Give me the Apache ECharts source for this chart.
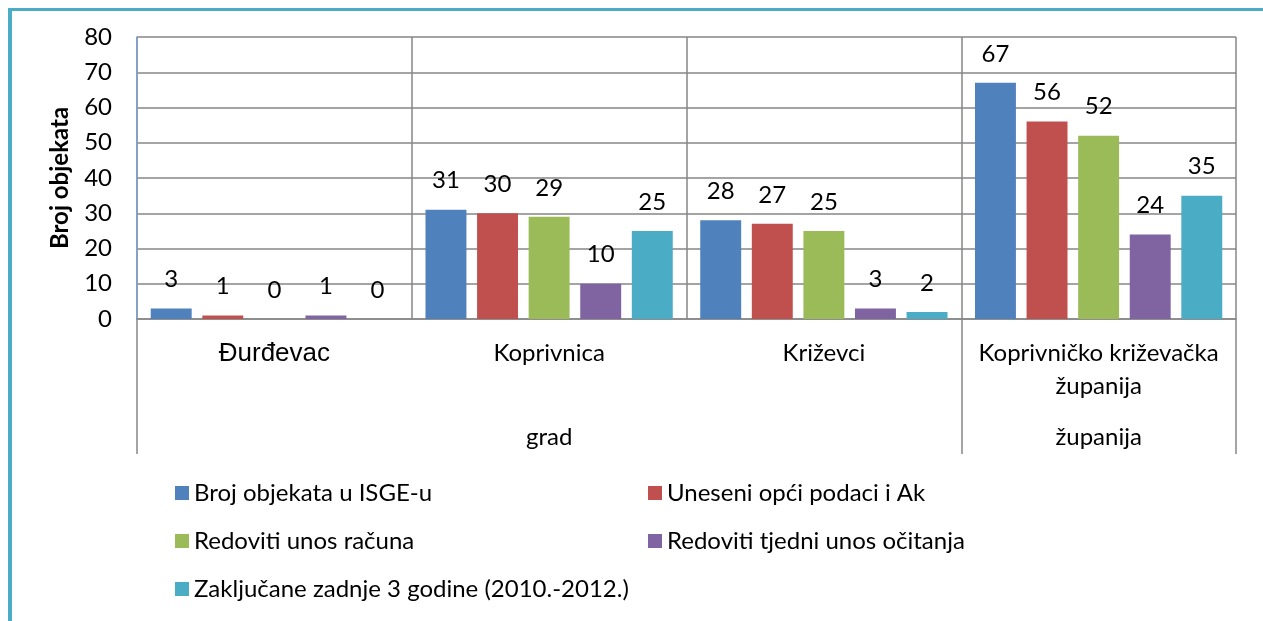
<!DOCTYPE html>
<html>
<head>
<meta charset="utf-8">
<script src="https://cdn.jsdelivr.net/npm/echarts@6/dist/echarts.min.js"></script>
<style>
	html, body { margin: 0; padding: 0; background: #fff; }
	#chart { position: absolute; left: 0; top: 0; width: 1263px; height: 621px; }
	/* teal frame round the chart */
	.frame {
		position: absolute; left: 8px; top: 8px; width: 1251px; height: 640px;
		border-top: 3px solid #4bacc6; border-left: 4px solid #4bacc6; border-right: 2px solid #8fcfe0;
		pointer-events: none;
	}
</style>
</head>
<body>
<div id="chart"></div>
<div class="frame"></div>
<script>
// podaci
const categories = ['Đurđevac', 'Koprivnica', 'Križevci', 'Koprivničko križevačka\nžupanija']
const groups = ['', 'grad', '', 'županija']
const seriesNames = [
	'Broj objekata u ISGE-u',
	'Uneseni opći podaci i Ak',
	'Redoviti unos računa',
	'Redoviti tjedni unos očitanja',
	'Zaključane zadnje 3 godine (2010.-2012.)',
]
const brojObjekata = [3, 31, 28, 67]
const uneseniPodaci = [1, 30, 27, 56]
const unosRacuna = [0, 29, 25, 52]
const unosOcitanja = [1, 10, 3, 24]
const zakljucane = [0, 25, 2, 35]
const colors = ['#4f81bd', '#c0504d', '#9bbb59', '#8064a2', '#4bacc6']

const font = 'Lato'
const myChart = echarts.init(document.getElementById('chart'))

const values = [brojObjekata, uneseniPodaci, unosRacuna, unosOcitanja, zakljucane]

const option = {
	animation: false,
	textStyle: { fontFamily: font },
	grid: { left: 137, top: 37, right: 27, bottom: 302 },
	legend: [
		{
			orient: 'vertical',
			left: 170,
			top: 476,
			itemWidth: 14,
			itemHeight: 14,
			itemGap: 24,
			icon: 'rect',
			data: [seriesNames[0], seriesNames[2], seriesNames[4]],
			textStyle: { fontFamily: font, fontSize: 24, color: '#000', lineHeight: 24 },
		},
		{
			orient: 'vertical',
			left: 643,
			top: 476,
			itemWidth: 14,
			itemHeight: 14,
			itemGap: 24,
			icon: 'rect',
			data: [seriesNames[1], seriesNames[3]],
			textStyle: { fontFamily: font, fontSize: 24, color: '#000', lineHeight: 24 },
		},
	],
	xAxis: [
		{
			type: 'category',
			data: categories,
			axisLine: { lineStyle: { color: '#868686', width: 1.5 } },
			axisTick: { show: false },
			splitLine: { show: true, lineStyle: { color: '#868686', width: 1.5 } },
			axisLabel: {
				interval: 0,
				margin: 18,
				color: '#000',
				fontFamily: font,
				fontSize: 24,
				lineHeight: 33,
				formatter: function (value, idx) {
					// prvi natpis je u Arialu
					return idx === 0 ? '{ar|' + value + '}' : value
				},
				rich: {
					ar: { fontFamily: 'Liberation Sans', fontSize: 26, color: '#000', lineHeight: 33 },
				},
			},
		},
		{
			type: 'category',
			data: groups,
			position: 'bottom',
			axisLine: { show: false },
			axisTick: {
				show: true,
				length: 135,
				interval: function (idx) {
					return idx === 0 || idx === 3
				},
				lineStyle: { color: '#868686', width: 1.5 },
			},
			axisLabel: {
				interval: 0,
				margin: 106,
				color: '#000',
				fontFamily: font,
				fontSize: 24,
			},
		},
	],
	yAxis: {
		type: 'value',
		min: 0,
		max: 80,
		interval: 10,
		name: 'Broj objekata',
		nameLocation: 'middle',
		nameGap: 65,
		nameTextStyle: { fontFamily: font, fontSize: 24, fontWeight: 'bold', color: '#000' },
		axisLine: { show: true, lineStyle: { color: '#7ba0d4', width: 1.5 } },
		axisTick: { show: false },
		axisLabel: { margin: 25, color: '#000', fontFamily: font, fontSize: 24 },
		splitLine: { lineStyle: { color: '#868686', width: 1.5 } },
	},
	series: values.map((data, i) => ({
		name: seriesNames[i],
		type: 'bar',
		xAxisIndex: 0,
		data: data,
		barGap: '26%',
		barCategoryGap: '10%',
		itemStyle: { color: colors[i] },
		label: {
			show: true,
			position: 'top',
			distance: 17,
			color: '#000',
			fontFamily: font,
			fontSize: 24,
		},
	})),
}

myChart.setOption(option)
</script>
</body>
</html>
